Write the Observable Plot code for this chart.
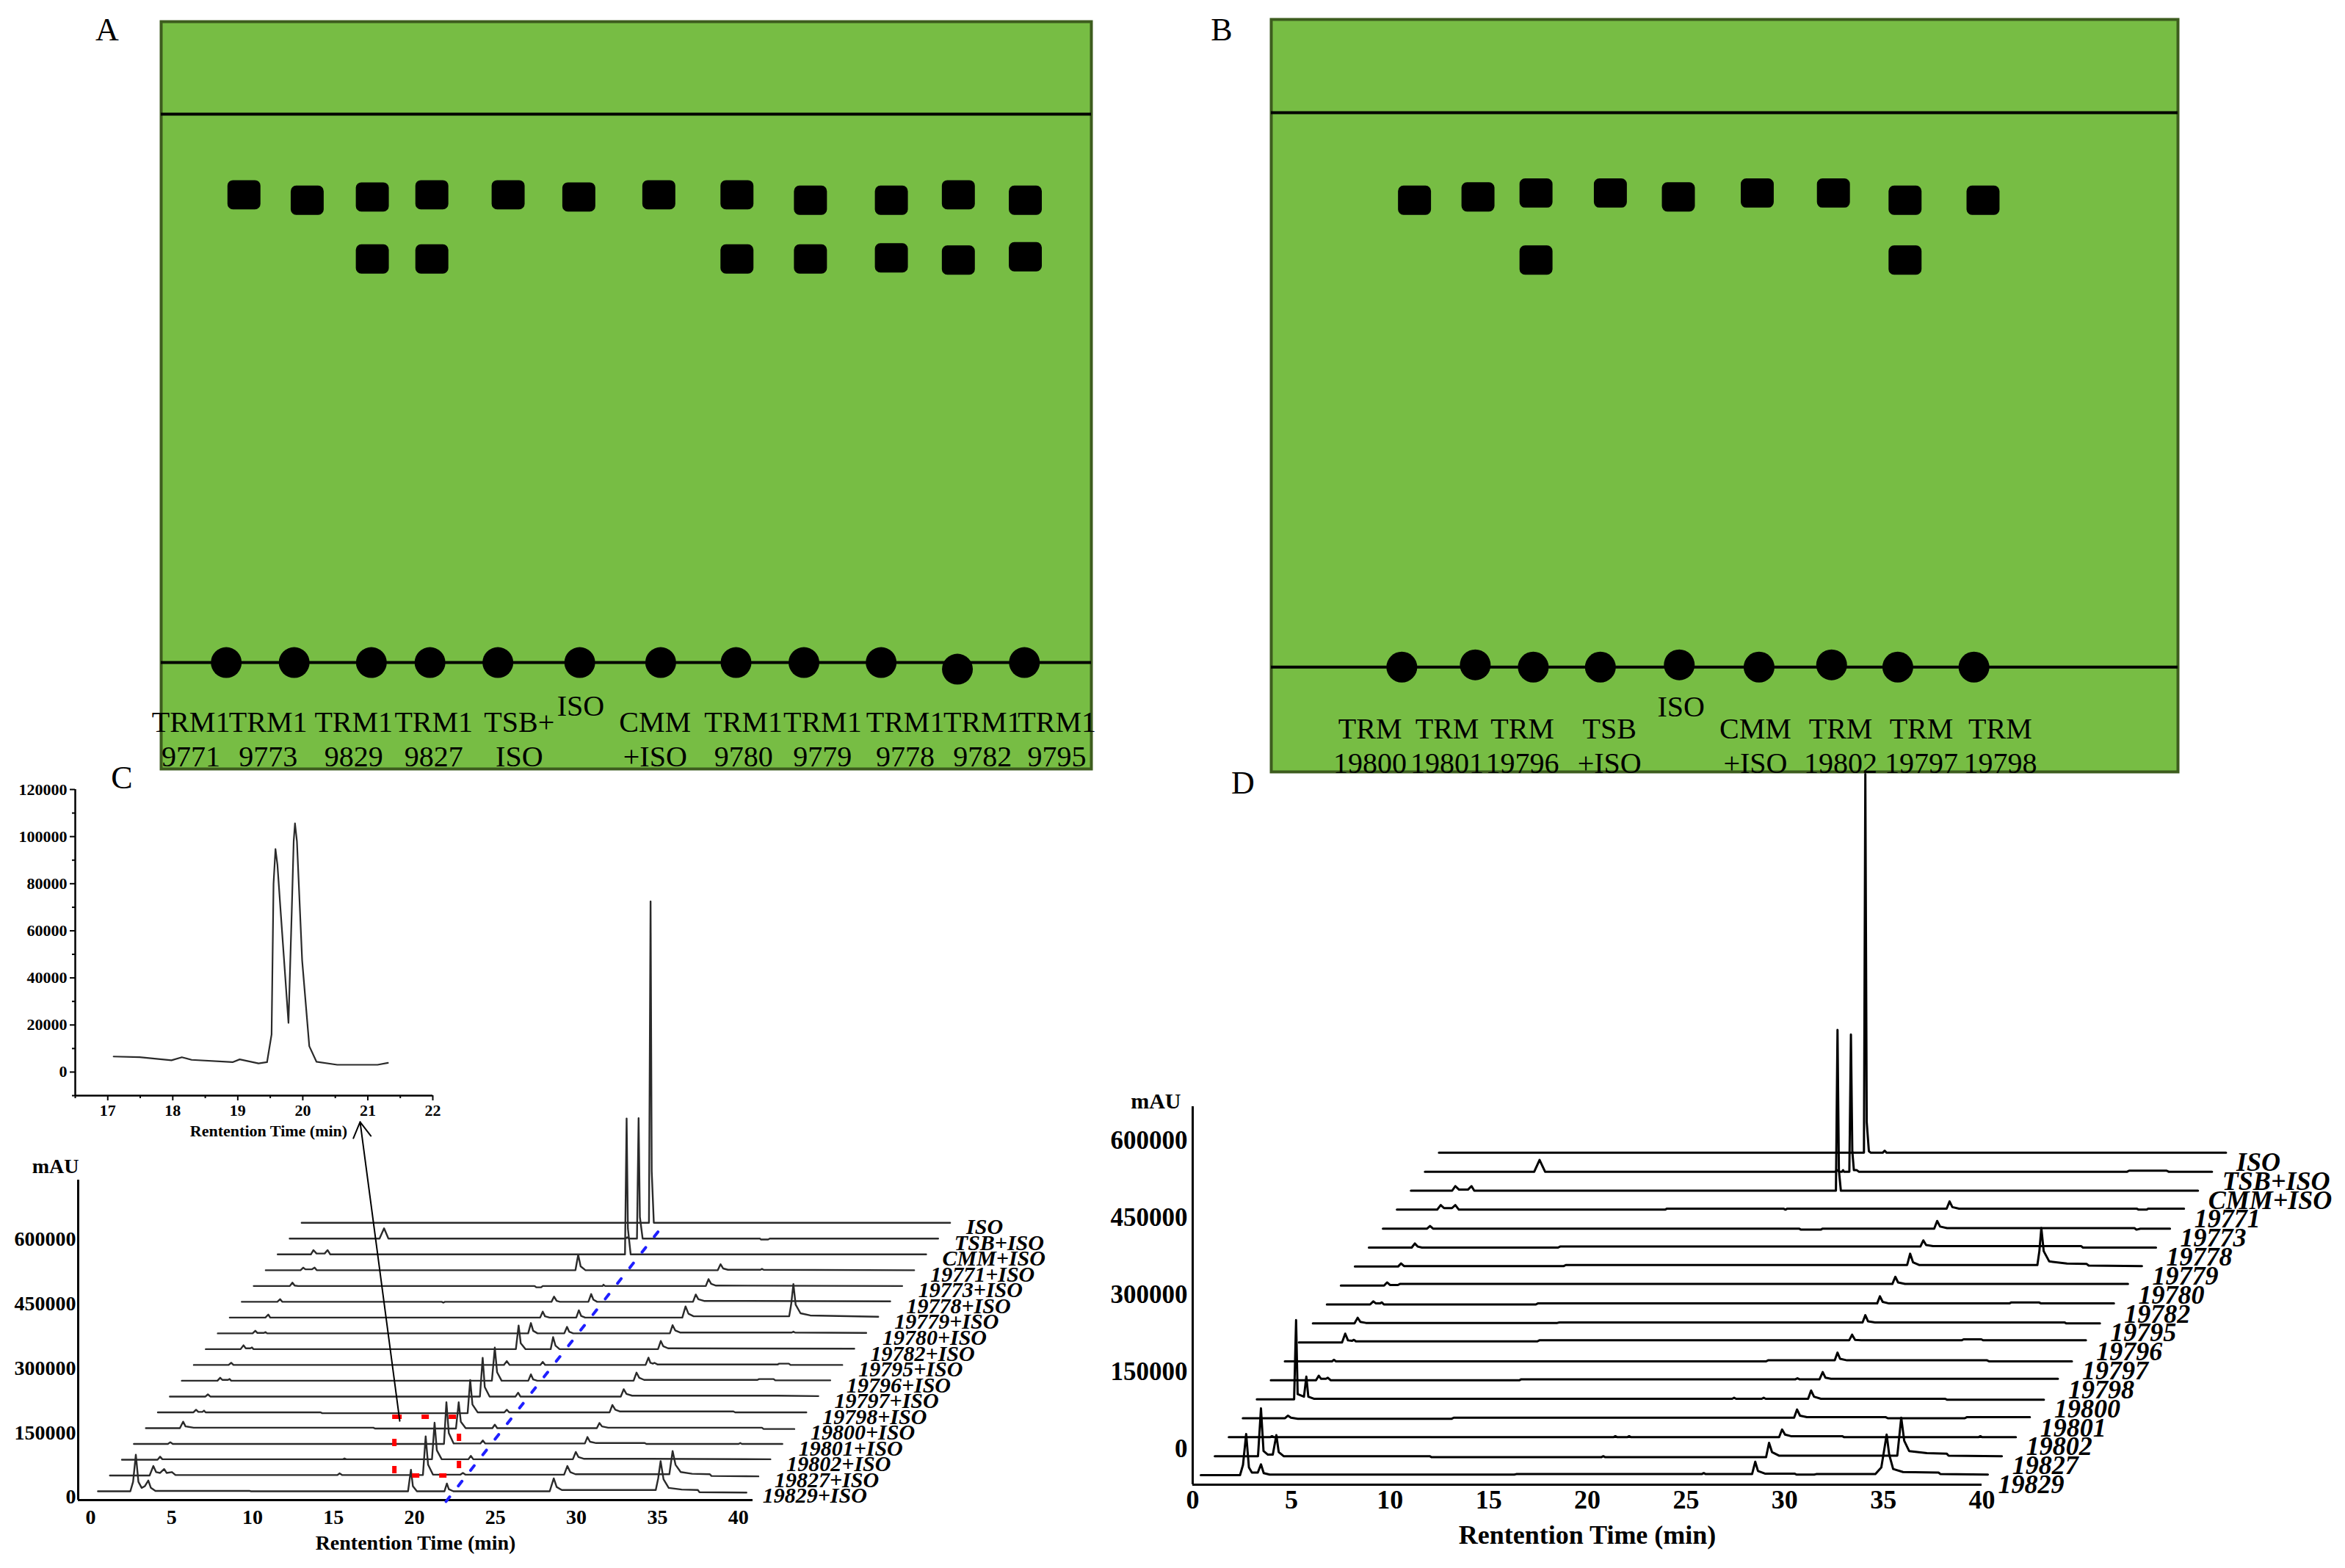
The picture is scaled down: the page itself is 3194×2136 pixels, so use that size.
<!DOCTYPE html>
<html><head><meta charset="utf-8">
<script src="https://cdn.jsdelivr.net/npm/d3@7"></script>
<script src="https://cdn.jsdelivr.net/npm/@observablehq/plot@0.6"></script>
<style>
body{margin:0;background:#fff;}
#page{position:relative;width:3194px;height:2136px;background:#fff;overflow:hidden;}
.plabel{position:absolute;font-family:'Liberation Serif',serif;font-size:44px;line-height:1;transform:translate(-50%,-50%);}
</style></head><body><div id="page"></div>
<script>
// ---------- Panel A (TLC plate, positions in plate units 0-100, Rf) ----------
const aLaneX   = [7.0, 14.3, 22.6, 28.9, 36.2, 45.0, 53.7, 61.8, 69.1, 77.4, 85.6, 92.8];
const aOriginRf= [0, 0, 0, 0, 0, 0, 0, 0, 0, 0, -0.012, 0];
const aSpotX   = [8.9, 15.7, 22.7, 29.1, 37.3, 44.9, 53.5, 61.9, 69.8, 78.5, 85.7, 92.9];
const aUpperRf = [0.853, 0.843, 0.849, 0.853, 0.853, 0.849, 0.853, 0.853, 0.843, 0.843, 0.853, 0.843];
const aLowerRf = [null, null, 0.736, 0.736, null, null, null, 0.736, 0.736, 0.738, 0.734, 0.740];
const aLabels  = ["TRM1\n9771","TRM1\n9773","TRM1\n9829","TRM1\n9827","TSB+\nISO","ISO","CMM\n+ISO","TRM1\n9780","TRM1\n9779","TRM1\n9778","TRM1\n9782","TRM1\n9795"];
const aLabelX  = [3.2, 11.5, 20.7, 29.3, 38.5, 45.1, 53.1, 62.6, 71.1, 80.0, 88.3, 96.3];

// ---------- Panel B ----------
const bLaneX   = [14.4, 22.5, 28.9, 36.3, 45.0, 53.8, 61.8, 69.1, 77.5];
const bOriginRf= [0, 0.004, 0, 0, 0.004, 0, 0.004, 0, 0];
const bSpotX   = [15.8, 22.8, 29.2, 37.4, 44.9, 53.6, 62.0, 69.9, 78.5];
const bUpperRf = [0.842, 0.848, 0.855, 0.855, 0.848, 0.855, 0.855, 0.842, 0.842];
const bLowerRf = [null, null, 0.734, null, null, null, null, 0.734, null];
const bLabels  = ["TRM\n19800","TRM\n19801","TRM\n19796","TSB\n+ISO","ISO","CMM\n+ISO","TRM\n19802","TRM\n19797","TRM\n19798"];
const bLabelX  = [10.9, 19.4, 27.7, 37.3, 45.2, 53.4, 62.8, 71.7, 80.4];

// ---------- Panel C: stacked chromatograms (time min, signal in 1000 mAU), bottom to top ----------
const cNames = ["19829+ISO","19827+ISO","19802+ISO","19801+ISO","19800+ISO","19798+ISO","19797+ISO","19796+ISO","19795+ISO","19782+ISO","19780+ISO","19779+ISO","19778+ISO","19773+ISO","19771+ISO","CMM+ISO","TSB+ISO","ISO"];
const cPoints = [
 [0.45,0, 2.45,0, 2.62,22, 2.79,85, 2.95,22, 3.15,8, 3.35,12, 3.56,25, 3.72,8, 4.0,1, 9.8,1, 9.9,0, 19.6,0, 19.78,50, 19.9,12, 20.15,0, 21.85,0, 22.0,18, 22.12,5, 22.4,0, 28.35,0, 28.6,30, 28.78,10, 29.1,3, 34.9,3, 35.05,30, 35.2,70, 35.38,28, 35.7,8, 36.5,4, 37.5,3, 37.6,-2, 40.5,-3],
 [0.45,0, 2.9,0, 3.13,22, 3.3,8, 3.55,6, 3.8,15, 3.95,6, 4.28,8, 4.5,1, 14.5,1, 14.63,5, 14.8,1, 19.78,1, 19.95,91, 20.1,25, 20.4,2, 22.1,2, 22.25,6, 22.4,2, 28.5,2, 28.7,22, 28.88,8, 29.2,3, 35.0,3, 35.2,57, 35.38,25, 35.7,8, 36.4,4, 37.5,3, 37.6,-1, 40.5,-2],
 [0.45,0, 2.65,0, 2.81,7, 2.95,1, 14.1,1, 14.2,3, 14.3,1, 19.6,1, 19.76,86, 19.9,22, 20.2,1, 21.85,1, 22.0,9, 22.15,1, 28.3,1, 28.48,18, 28.65,6, 29.0,2, 33.0,2, 40.5,1],
 [0.45,0, 2.55,0, 2.7,4, 2.85,0, 19.6,0, 19.75,97, 19.9,25, 20.2,1, 21.85,1, 22.0,8, 22.15,1, 28.3,1, 28.46,16, 28.62,5, 29.0,2, 32.0,2, 32.1,0, 37.8,0, 37.9,2, 38.0,0, 40.5,0],
 [0.45,0, 2.55,0, 2.75,15, 2.9,4, 3.4,1, 14.5,1, 14.6,-1, 19.6,-1, 19.77,60, 19.9,15, 20.2,0, 21.85,0, 22.0,8, 22.15,0, 28.3,0, 28.46,12, 28.62,4, 29.0,1, 38.5,1, 38.6,-2, 40.5,-2],
 [0.45,0, 2.65,0, 2.81,6, 2.95,1, 3.2,1, 3.3,4, 3.4,0, 10.5,0, 10.6,-2, 19.58,-2, 19.74,75, 19.88,18, 20.2,0, 21.85,0, 22.0,6, 22.15,0, 28.35,0, 28.52,17, 28.7,6, 29.0,2, 36.0,2, 36.1,0, 40.5,0],
 [0.45,0, 2.65,0, 2.8,5, 2.95,0, 19.6,0, 19.77,90, 19.9,22, 20.2,0, 21.8,0, 21.96,9, 22.1,0, 28.3,0, 28.48,17, 28.65,6, 29.0,2, 38.0,2, 40.5,1],
 [0.45,0, 2.65,0, 2.82,7, 2.95,2, 3.3,2, 3.4,4, 3.5,0, 19.6,0, 19.78,77, 19.92,20, 20.2,0, 21.85,0, 22.01,15, 22.15,3, 22.4,0, 28.35,0, 28.53,19, 28.7,7, 29.0,2, 36.0,2, 36.1,4, 37.0,4, 37.1,1, 40.5,1],
 [0.45,0, 2.6,0, 2.76,5, 2.9,0, 19.6,0, 19.78,9, 19.95,0, 21.85,0, 22.0,7, 22.15,0, 28.35,0, 28.53,17, 28.65,5, 28.8,3, 28.9,5, 29.1,1, 36.5,1, 36.6,3, 37.2,3, 37.3,0, 40.5,0],
 [0.45,0, 2.6,0, 2.78,9, 2.92,2, 3.2,2, 3.3,4, 3.4,0, 19.6,0, 19.77,55, 19.9,14, 20.2,0, 21.75,0, 21.9,28, 22.05,8, 22.3,0, 28.38,0, 28.55,19, 28.7,7, 29.0,2, 40.5,1],
 [0.45,0, 2.6,0, 2.77,6, 2.9,1, 3.3,1, 3.4,3, 3.5,0, 19.62,0, 19.79,24, 19.93,6, 20.2,0, 21.85,0, 22.02,15, 22.15,4, 22.4,0, 28.37,0, 28.54,19, 28.7,7, 29.0,2, 35.9,2, 36.0,4, 36.1,2, 40.5,1],
 [0.45,0, 2.65,0, 2.83,7, 2.95,0, 19.62,0, 19.78,14, 19.92,3, 20.2,0, 21.85,0, 22.01,17, 22.15,4, 22.4,0, 28.4,0, 28.6,26, 28.78,9, 29.1,3, 35.0,3, 35.12,30, 35.26,78, 35.4,30, 35.7,10, 36.3,5, 40.5,2],
 [0.45,0, 2.65,0, 2.82,6, 2.95,0, 12.8,0, 12.9,-2, 13.0,0, 19.58,0, 19.74,12, 19.9,2, 20.1,0, 21.86,0, 22.03,18, 22.17,5, 22.4,0, 28.32,0, 28.49,17, 28.65,6, 29.0,2, 40.5,1],
 [0.45,0, 2.68,0, 2.84,8, 2.98,1, 3.2,0, 17.8,0, 17.9,-3, 18.2,-3, 18.3,0, 22.0,0, 22.05,3, 22.15,0, 28.37,0, 28.54,16, 28.7,5, 29.0,1, 40.5,0],
 [0.45,0, 2.6,0, 2.77,6, 2.9,2, 3.3,2, 3.47,6, 3.6,0, 19.58,0, 19.75,36, 19.9,9, 20.2,0, 28.37,0, 28.54,14, 28.7,4, 29.0,1, 31.0,1, 31.1,3, 31.2,1, 40.5,0],
 [0.45,0, 2.5,0, 2.66,10, 2.85,2, 3.35,2, 3.53,10, 3.7,0, 21.9,0, 22.0,316, 22.08,60, 22.25,0, 40.5,0],
 [0.45,0, 6.0,0, 6.28,24, 6.55,0, 21.2,0, 21.3,3, 21.4,0, 21.9,0, 22.0,280, 22.08,50, 22.25,0, 29.5,0, 29.55,-2, 30.0,-2, 30.1,0, 40.5,0],
 [0.45,0, 21.9,0, 22.0,747, 22.07,120, 22.2,0, 40.5,0]
];
// inset of panel C (time min, 1000 mAU)
const insetPoints = [17.09,6.6, 17.49,6.3, 17.98,5.0, 18.14,6.3, 18.29,5.2, 18.92,4.2, 19.03,5.4, 19.32,3.7, 19.45,4.2, 19.52,16, 19.55,80, 19.58,94.7, 19.61,88, 19.66,68, 19.78,20.9, 19.83,68, 19.86,98, 19.88,105.6, 19.91,98, 19.99,47.5, 20.1,11, 20.21,4.4, 20.53,3.1, 21.15,3.1, 21.31,3.9];
// annotations of panel C (axis units: min, mAU)
const cRedBox   = [{x1: 18.78, x2: 22.77, y1: 49500, y2: 186000}];
const cBlueLine = [[21.95, -10000], [35.4, 634000]];
const cArrow    = [{x1: 19.09, y1: 177000, x2: 16.64, y2: 872000}];

// ---------- Panel D ----------
const dNames = ["19829","19827","19802","19801","19800","19798","19797","19796","19795","19782","19780","19779","19778","19773","19771","CMM+ISO","TSB+ISO","ISO"];
const dPoints = [
 [0.41,0, 2.4,0, 2.55,20, 2.71,80, 2.85,15, 3.0,5, 3.3,5, 3.46,21, 3.6,4, 3.9,1, 16.3,1, 16.4,2, 25.8,2, 25.9,4, 26.0,2, 28.35,2, 28.51,26, 28.65,8, 29.0,3, 30.5,3, 30.6,1, 31.5,1, 31.6,2, 34.6,2, 34.9,15, 35.05,50, 35.17,79, 35.3,40, 35.5,12, 36.0,6, 37.8,5, 37.9,2, 40.3,1],
 [0.41,0, 2.6,0, 2.75,93, 2.88,10, 3.1,3, 3.35,3, 3.53,41, 3.65,8, 3.9,0, 11.3,0, 11.4,-2, 20.0,-2, 20.1,0, 20.2,-2, 28.35,-2, 28.5,26, 28.65,8, 29.0,1, 35.0,1, 35.2,75, 35.35,30, 35.6,10, 36.5,6, 37.5,5, 37.6,1, 40.3,0],
 [0.41,0, 2.5,0, 2.6,2, 2.7,0, 19.9,0, 20.0,2, 20.1,0, 20.6,0, 20.7,2, 20.8,0, 28.3,0, 28.45,15, 28.6,5, 28.9,2, 31.5,2, 31.6,0, 38.4,0, 38.5,2, 38.6,0, 40.3,0],
 [0.41,0, 2.55,0, 2.7,5, 2.85,1, 3.2,-1, 11.0,-1, 11.1,1, 28.35,1, 28.5,17, 28.65,5, 29.0,2, 33.0,2, 33.1,0, 37.0,0, 37.1,2, 40.3,2],
 [0.41,0, 2.3,0, 2.4,154, 2.48,10, 2.8,5, 2.92,44, 3.02,5, 3.3,1, 24.5,1, 24.6,3, 24.7,1, 26.0,1, 26.1,3, 26.2,1, 28.35,1, 28.5,17, 28.65,5, 29.0,1, 35.3,1, 35.4,-1, 40.3,-1],
 [0.41,0, 2.7,0, 2.84,9, 2.95,3, 3.2,3, 3.3,5, 3.45,0, 13.0,0, 13.1,2, 27.0,2, 27.1,4, 27.2,2, 28.22,2, 28.38,16, 28.52,5, 28.8,3, 40.3,3],
 [0.41,0, 2.8,0, 2.9,3, 3.0,0, 24.8,0, 24.9,2, 28.28,2, 28.42,17, 28.55,5, 28.9,2, 36.0,2, 36.1,0, 40.3,0],
 [0.41,0, 2.6,0, 2.76,17, 2.9,4, 3.1,3, 3.2,5, 3.3,2, 12.5,2, 12.6,4, 28.3,4, 28.45,15, 28.6,5, 28.9,4, 34.0,4, 34.1,6, 35.0,6, 35.1,4, 40.3,4],
 [0.41,0, 2.52,0, 2.68,11, 2.82,3, 3.1,1, 12.8,1, 12.9,2, 28.27,2, 28.41,16, 28.55,4, 28.9,2, 38.5,2, 38.6,0, 40.3,0],
 [0.41,0, 2.6,0, 2.76,6, 2.9,2, 3.1,2, 3.2,4, 3.3,0, 11.0,0, 11.1,2, 28.3,2, 28.44,16, 28.58,5, 28.9,2, 35.0,2, 35.1,4, 36.5,4, 36.6,2, 40.3,2],
 [0.41,0, 2.6,0, 2.75,6, 2.9,1, 3.3,1, 3.4,3, 28.36,3, 28.51,17, 28.65,6, 29.0,3, 40.3,3],
 [0.41,0, 2.6,0, 2.75,6, 2.9,1, 11.0,1, 11.1,3, 28.4,3, 28.55,25, 28.7,8, 29.0,3, 35.0,3, 35.1,30, 35.2,75, 35.32,30, 35.6,10, 36.5,6, 37.5,5, 37.6,2, 40.3,1],
 [0.41,0, 2.58,0, 2.74,8, 2.88,2, 3.1,0, 10.0,0, 10.1,2, 28.36,2, 28.51,14, 28.65,5, 29.0,3, 36.5,3, 36.6,0, 40.3,0],
 [0.41,0, 2.65,0, 2.8,5, 2.95,0, 21.5,0, 21.6,-2, 22.6,-2, 22.7,0, 28.35,0, 28.5,15, 28.65,4, 29.0,1, 38.5,1, 38.6,-2, 38.8,0, 40.3,0],
 [0.41,0, 2.45,0, 2.63,9, 2.8,3, 3.2,3, 3.37,9, 3.55,0, 14.0,0, 14.1,2, 20.0,2, 20.1,0, 20.2,2, 28.27,2, 28.42,16, 28.56,5, 28.9,2, 37.9,2, 38.0,0, 38.4,0, 38.5,2, 40.3,2],
 [0.41,0, 2.5,0, 2.66,9, 2.85,2, 3.3,2, 3.48,9, 3.62,0, 21.95,0, 22.03,313, 22.1,40, 22.2,0, 40.3,0],
 [0.41,0, 5.95,0, 6.22,23, 6.5,0, 21.2,0, 21.3,3, 21.4,0, 21.55,0, 21.6,3, 21.65,0, 21.92,0, 22.0,267, 22.07,40, 22.15,3, 22.3,3, 22.4,0, 36.0,0, 36.1,2, 38.0,2, 38.1,0, 40.3,0],
 [0.41,0, 21.95,0, 22.02,737, 22.09,60, 22.2,3, 22.3,0, 22.9,0, 23.0,4, 23.1,0, 40.3,0]
];

// ---------- layout / styles ----------
const GREEN = "#77BD44", DARK = "#3D5C1E";
const SERIF = "'Liberation Serif', 'Times New Roman', serif";
const C_DX = 0.74, C_BASE = 13650, C_DY = 36700;   // pseudo-3D stacking of panel C
const D_DX = 0.71, D_BASE = -51400, D_DY = 36900;  // pseudo-3D stacking of panel D
const page = document.getElementById("page");

function place(el, left, top) {
  el.style.position = "absolute";
  el.style.left = left + "px";
  el.style.top = top + "px";
  el.style.maxWidth = "none";
  el.style.overflow = "visible";
  el.style.background = "transparent";
  page.appendChild(el);
}

const roundRect = {
  draw(ctx, size) {
    const r = Math.sqrt(size / Math.PI);
    const w = 1.07 * r, h = 0.95 * r, c = 0.36 * r;
    ctx.moveTo(-w + c, -h);
    ctx.arcTo(w, -h, w, h, c);
    ctx.arcTo(w, h, -w, h, c);
    ctx.arcTo(-w, h, -w, -h, c);
    ctx.arcTo(-w, -h, w, -h, c);
    ctx.closePath();
  }
};

function platePlot(o) {
  const spots = [];
  o.spotX.forEach((x, i) => {
    spots.push({x, rf: o.upper[i]});
    if (o.lower[i] != null) spots.push({x, rf: o.lower[i]});
  });
  const origins = o.laneX.map((x, i) => ({x, rf: o.origin[i]}));
  const labs = o.labels.map((t, i) => ({x: o.labelX[i], t}));
  return Plot.plot({
    width: o.width, height: o.height,
    marginLeft: o.ml, marginRight: o.mr, marginTop: o.mt, marginBottom: o.mb,
    x: {domain: [0, 100], axis: null},
    y: {domain: o.yDomain, axis: null},
    style: {fontFamily: SERIF, background: "transparent", overflow: "visible"},
    marks: [
      Plot.frame({fill: GREEN, stroke: DARK, strokeWidth: 4}),
      Plot.ruleY([0, 1], {stroke: "black", strokeWidth: 4}),
      Plot.dot(spots, {x: "x", y: "rf", r: 21, symbol: roundRect, fill: "black"}),
      Plot.dot(origins, {x: "x", y: "rf", r: 21, fill: "black"}),
      Plot.text(labs.filter(d => d.t.includes("\n")), {x: "x", y: () => o.labelRf, text: "t", fontSize: 40, lineHeight: 1.17, lineAnchor: "middle", fill: "black"}),
      Plot.text(labs.filter(d => !d.t.includes("\n")), {x: "x", y: () => o.isoRf, text: "t", fontSize: 40, lineAnchor: "middle", fill: "black"})
    ]
  });
}

place(platePlot({width: 1560, height: 1070, ml: 219, mr: 74, mt: 29, mb: 23, yDomain: [-0.194, 1.1687],
  laneX: aLaneX, origin: aOriginRf, spotX: aSpotX, upper: aUpperRf, lower: aLowerRf,
  labels: aLabels, labelX: aLabelX, labelRf: -0.138, isoRf: -0.08}), 0, 0);

place(platePlot({width: 1554, height: 1070, ml: 91, mr: 228, mt: 26, mb: 19, yDomain: [-0.189, 1.168],
  laneX: bLaneX, origin: bOriginRf, spotX: bSpotX, upper: bUpperRf, lower: bLowerRf,
  labels: bLabels, labelX: bLabelX, labelRf: -0.14, isoRf: -0.072}), 1640, 0);

// ---------- Panel C ----------
function stackRows(names, pts, dx, base, dy) {
  const rows = [], ends = [];
  names.forEach((name, i) => {
    const p = pts[i];
    for (let k = 0; k < p.length; k += 2) rows.push({name, t: p[k] + dx * i, v: p[k + 1] * 1000 + base + dy * i});
    ends.push({name, t: p[p.length - 2] + dx * i, v: base + dy * i});
  });
  return {rows, ends};
}
const C = stackRows(cNames, cPoints, C_DX, C_BASE, C_DY);
place(Plot.plot({
  width: 1500, height: 1096, marginLeft: 106, marginRight: 475, marginTop: 567, marginBottom: 93,
  x: {domain: [-0.77, 40.9]},
  y: {domain: [-6800, 737000]},
  style: {fontFamily: SERIF, fontSize: "28px", fontWeight: "bold", background: "transparent", overflow: "visible"},
  marks: [
    Plot.ruleX([-0.77], {strokeWidth: 3}),
    Plot.ruleY([-6800], {strokeWidth: 3}),
    Plot.axisX({ticks: d3.range(0, 41, 5), tickSize: 0, tickPadding: 13, label: null, fontSize: 28, fontWeight: "bold"}),
    Plot.axisY({ticks: d3.range(0, 600001, 150000), tickSize: 0, tickPadding: 3, tickFormat: "d", label: null, fontSize: 28, fontWeight: "bold"}),
    Plot.line(C.rows, {x: "t", y: "v", z: "name", stroke: "#2a2a2a", strokeWidth: 2.4}),
    Plot.text(C.ends, {x: "t", y: "v", text: "name", textAnchor: "start", dx: 22, dy: 6, fontSize: 30, fontStyle: "italic", fontWeight: "bold", fill: "black"}),
    Plot.line(cBlueLine, {x: d => d[0], y: d => d[1], stroke: "#1f1fff", strokeWidth: 4, strokeDasharray: "8,19"}),
    Plot.rect(cRedBox, {x1: "x1", x2: "x2", y1: "y1", y2: "y2", fill: "none", stroke: "#ff0000", strokeWidth: 6, strokeDasharray: "10,27"}),
    Plot.arrow(cArrow, {x1: "x1", y1: "y1", x2: "x2", y2: "y2", stroke: "black", strokeWidth: 2, headLength: 18}),
    Plot.text(["mAU"], {frameAnchor: "top-left", textAnchor: "end", lineAnchor: "middle", dx: 1, dy: -18, fontSize: 28, fontWeight: "bold"}),
    Plot.text(["Rentention Time (min)"], {frameAnchor: "bottom", lineAnchor: "middle", dy: 59, fontSize: 28, fontWeight: "bold"})
  ]
}), 0, 1040);

// inset
const insetRows = [];
for (let k = 0; k < insetPoints.length; k += 2) insetRows.push({t: insetPoints[k], v: insetPoints[k + 1] * 1000});
place(Plot.plot({
  width: 650, height: 520, marginLeft: 102, marginRight: 61, marginTop: 35, marginBottom: 68,
  x: {domain: [16.5, 22]},
  y: {domain: [-10000, 120000]},
  style: {fontFamily: SERIF, fontSize: "22px", fontWeight: "bold", background: "transparent", overflow: "visible"},
  marks: [
    Plot.ruleX([16.5], {strokeWidth: 2.5}),
    Plot.ruleY([-10000], {strokeWidth: 2.5}),
    Plot.axisY({ticks: d3.range(0, 120001, 20000), tickSize: 7, tickPadding: 4, tickFormat: "d", label: null, fontSize: 22, fontWeight: "bold", strokeWidth: 2}),
    Plot.axisY({ticks: d3.range(-10000, 120001, 20000), tickSize: 4, tickFormat: () => "", label: null, strokeWidth: 2}),
    Plot.axisX({ticks: d3.range(17, 22.01, 1), tickSize: 7, tickPadding: 5, tickFormat: "d", label: null, fontSize: 22, fontWeight: "bold", strokeWidth: 2}),
    Plot.axisX({ticks: d3.range(16.5, 22, 1), tickSize: 4, tickFormat: () => "", label: null, strokeWidth: 2}),
    Plot.line(insetRows, {x: "t", y: "v", stroke: "#2a2a2a", strokeWidth: 2.2}),
    Plot.text(["Rentention Time (min)"], {frameAnchor: "bottom", lineAnchor: "middle", dx: 20, dy: 48, fontSize: 22, fontWeight: "bold"})
  ]
}), 0, 1040);

// ---------- Panel D ----------
const D = stackRows(dNames, dPoints, D_DX, D_BASE, D_DY);
place(Plot.plot({
  width: 1694, height: 1136, marginLeft: 124, marginRight: 495, marginTop: 507, marginBottom: 114,
  x: {domain: [0, 40]},
  y: {domain: [-70000, 665700]},
  style: {fontFamily: SERIF, fontSize: "35px", fontWeight: "bold", background: "transparent", overflow: "visible"},
  marks: [
    Plot.ruleX([0], {strokeWidth: 3}),
    Plot.ruleY([-70000], {strokeWidth: 3}),
    Plot.axisX({ticks: d3.range(0, 41, 5), tickSize: 0, tickPadding: 7, label: null, fontSize: 36, fontWeight: "bold"}),
    Plot.axisY({ticks: d3.range(0, 600001, 150000), tickSize: 0, tickPadding: 7, tickFormat: "d", label: null, fontSize: 35, fontWeight: "bold"}),
    Plot.line(D.rows, {x: "t", y: "v", z: "name", stroke: "black", strokeWidth: 3}),
    Plot.text(D.ends, {x: "t", y: "v", text: "name", textAnchor: "start", dx: 14, dy: 13, fontSize: 36, fontStyle: "italic", fontWeight: "bold", fill: "black"}),
    Plot.text(["mAU"], {frameAnchor: "top-left", textAnchor: "end", lineAnchor: "middle", dx: -16, dy: -7, fontSize: 30, fontWeight: "bold"}),
    Plot.text(["Rentention Time (min)"], {frameAnchor: "bottom", lineAnchor: "middle", dy: 69, fontSize: 36, fontWeight: "bold"})
  ]
}), 1500, 1000);

// ---------- panel letters ----------
[["A", 146, 41], ["B", 1664, 41], ["C", 166, 1060], ["D", 1693, 1067]].forEach(([t, x, y]) => {
  const d = document.createElement("div");
  d.className = "plabel";
  d.textContent = t;
  d.style.left = x + "px";
  d.style.top = y + "px";
  page.appendChild(d);
});
</script></body></html>
